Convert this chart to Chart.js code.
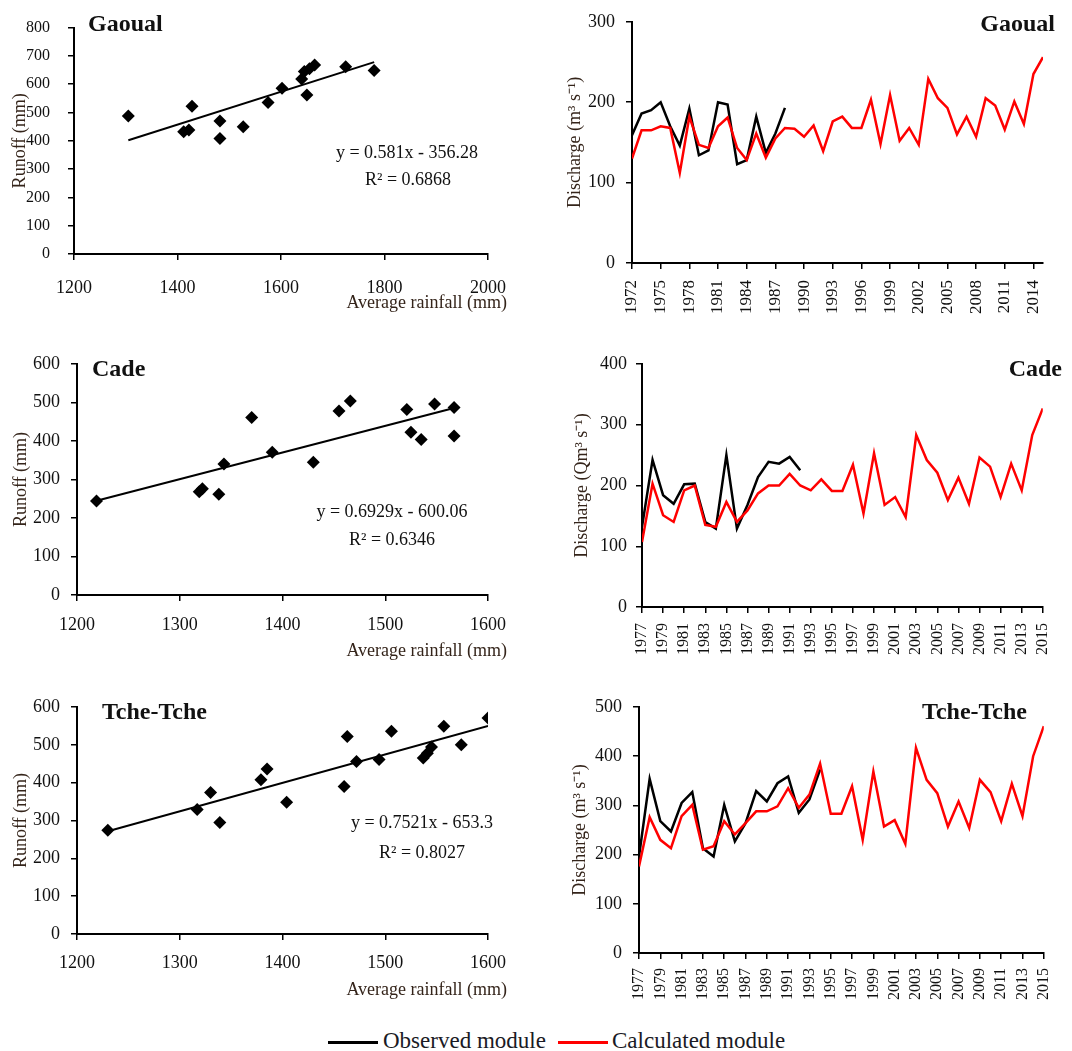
<!DOCTYPE html>
<html>
<head>
<meta charset="utf-8">
<script src="https://cdn.jsdelivr.net/npm/chart.js@4.4.1/dist/chart.umd.min.js"></script>
<style>
  body { margin: 0; background: #fff; width: 1072px; height: 1051px; position: relative; overflow: hidden; font-family: "Liberation Serif", "Times New Roman", serif; }
  .panel { position: absolute; }
  .key-line { position: absolute; height: 3px; }
  .key-text { position: absolute; font-size: 23px; line-height: 1; color: #1a1a24; white-space: nowrap; }
</style>
</head>
<body>
<div class="panel" style="left:0;top:0;width:530px;height:318px"><canvas id="gaoualRunoff"></canvas></div>
<div class="panel" style="left:540px;top:0;width:532px;height:325px"><canvas id="gaoualFlow"></canvas></div>
<div class="panel" style="left:0;top:330px;width:530px;height:336px"><canvas id="cadeRunoff"></canvas></div>
<div class="panel" style="left:540px;top:330px;width:532px;height:330px"><canvas id="cadeFlow"></canvas></div>
<div class="panel" style="left:0;top:670px;width:530px;height:335px"><canvas id="tcheRunoff"></canvas></div>
<div class="panel" style="left:540px;top:670px;width:532px;height:345px"><canvas id="tcheFlow"></canvas></div>

<div class="key-line" style="left:328px;top:1041px;width:50px;background:#000"></div>
<div class="key-text" style="left:383px;top:1029px">Observed module</div>
<div class="key-line" style="left:558px;top:1041px;width:50px;background:#ff0000"></div>
<div class="key-text" style="left:612px;top:1029px">Calculated module</div>

<script>
const serif = '"Liberation Serif", "Times New Roman", serif';
const ink = '#111';
const titleInk = '#34241a';

// Gaoual: mean annual rainfall vs runoff (mm)
const gaoualRain = [1305, 1412, 1422, 1428, 1482, 1482, 1527, 1575, 1602, 1640, 1645, 1650, 1655, 1665, 1725, 1780];
const gaoualRunoff = [488, 432, 438, 522, 470, 408, 450, 535, 586, 618, 645, 562, 655, 668, 662, 648];

// Cade
const cadeRain = [1219, 1319, 1322, 1338, 1343, 1370, 1390, 1430, 1455, 1466, 1521, 1525, 1535, 1548, 1567, 1567];
const cadeRunoff = [244, 268, 276, 262, 340, 461, 371, 345, 478, 504, 482, 423, 404, 496, 487, 413];

// Tche-Tche
const tcheRain = [1230, 1317, 1330, 1339, 1379, 1385, 1404, 1460, 1463, 1472, 1494, 1506, 1537, 1541, 1545, 1557, 1574, 1600];
const tcheRunoff = [274, 329, 374, 295, 408, 436, 348, 390, 522, 456, 461, 536, 465, 478, 494, 549, 500, 571];

// discharge series (m3/s)
const gaoualYears = [1972, 1973, 1974, 1975, 1976, 1977, 1978, 1979, 1980, 1981, 1982, 1983, 1984, 1985, 1986,
  1987, 1988, 1989, 1990, 1991, 1992, 1993, 1994, 1995, 1996, 1997, 1998, 1999, 2000, 2001, 2002, 2003, 2004,
  2005, 2006, 2007, 2008, 2009, 2010, 2011, 2012, 2013, 2014, 2015];
const gaoualTicks = [1972, 1975, 1978, 1981, 1984, 1987, 1990, 1993, 1996, 1999, 2002, 2005, 2008, 2011, 2014];
const gaoualCalc = [130, 165, 165, 170, 168, 112, 182, 147, 143, 170, 181, 143, 128, 161, 131, 155, 168, 167,
  157, 171, 139, 176, 182, 168, 168, 203, 148, 209, 152, 168, 147, 229, 205, 193, 160, 182, 157, 205, 196, 166,
  201, 173, 235, 256];
const gaoualObs = [159, 186, 190, 200, 170, 146, 192, 134, 140, 200, 197, 123, 128, 182, 137, 161, 193];

const laterYears = [1977, 1978, 1979, 1980, 1981, 1982, 1983, 1984, 1985, 1986, 1987, 1988, 1989, 1990, 1991,
  1992, 1993, 1994, 1995, 1996, 1997, 1998, 1999, 2000, 2001, 2002, 2003, 2004, 2005, 2006, 2007, 2008, 2009,
  2010, 2011, 2012, 2013, 2014, 2015];
const laterTicks = [1977, 1979, 1981, 1983, 1985, 1987, 1989, 1991, 1993, 1995, 1997, 1999, 2001, 2003, 2005,
  2007, 2009, 2011, 2013, 2015];

const cadeCalc = [107, 203, 151, 140, 192, 200, 135, 132, 173, 140, 159, 187, 200, 200, 219, 200, 192, 210,
  191, 191, 234, 154, 253, 168, 181, 148, 283, 242, 221, 176, 213, 170, 246, 231, 181, 236, 192, 283, 327];
const cadeObs = [132, 242, 184, 170, 202, 203, 140, 129, 250, 129, 168, 214, 239, 236, 247, 225];

const tcheCalc = [176, 276, 230, 213, 278, 301, 210, 217, 268, 241, 264, 288, 288, 298, 335, 295, 322, 385,
  283, 283, 339, 230, 369, 257, 270, 222, 417, 352, 325, 257, 308, 254, 352, 327, 268, 344, 278, 400, 461];
const tcheObs = [196, 354, 268, 247, 305, 327, 213, 196, 301, 227, 264, 329, 308, 345, 359, 285, 312, 373];

// free text (station names, regression equations, x titles) in canvas pixels
function textLayer(items) {
  return {
    id: 'textLayer',
    afterDraw(chart) {
      const ctx = chart.ctx;
      ctx.save();
      items.forEach(t => {
        ctx.font = (t.bold ? 'bold ' : '') + (t.size || 18) + 'px ' + serif;
        ctx.fillStyle = t.color || ink;
        ctx.textAlign = t.align || 'left';
        ctx.textBaseline = 'middle';
        ctx.fillText(t.text, t.x, t.y);
      });
      ctx.restore();
    }
  };
}

function axisLines() {
  return {
    grid: { drawOnChartArea: false, color: '#000', lineWidth: 1.5, tickLength: 6 },
    border: { color: '#000', width: 2 }
  };
}

function runoffChart(id, rain, runoff, fit, lay) {
  const lo = Math.min(...rain), hi = Math.max(...rain);
  const line = x => fit.slope * x + fit.intercept;
  new Chart(document.getElementById(id), {
    type: 'scatter',
    data: {
      datasets: [{
        data: rain.map((r, i) => ({ x: r, y: runoff[i] })),
        pointStyle: 'rectRot',
        pointRadius: 6.5,
        backgroundColor: '#000',
        borderColor: '#000',
        borderWidth: 0,
        order: 0
      }, {
        type: 'line',
        data: [{ x: lo, y: line(lo) }, { x: hi, y: line(hi) }],
        borderColor: '#000',
        borderWidth: 2,
        pointRadius: 0,
        order: 1
      }]
    },
    options: {
      responsive: true,
      maintainAspectRatio: false,
      animation: false,
      layout: { padding: { top: lay.padTop, right: lay.padRight, left: 0, bottom: 0 } },
      plugins: { legend: { display: false }, tooltip: { enabled: false } },
      scales: {
        x: {
          type: 'linear', min: 1200, max: lay.xMax,
          ...axisLines(),
          afterFit: s => { s.height = lay.xHeight; },
          ticks: { stepSize: lay.xStep, padding: lay.xTickPad, color: ink, font: { family: serif, size: 18 }, callback: v => String(v) }
        },
        y: {
          min: 0, max: lay.yMax,
          ...axisLines(),
          afterFit: s => { s.width = lay.yWidth; },
          ticks: { stepSize: 100, padding: lay.yTickPad, color: ink, font: { family: serif, size: lay.yTickSize } },
          title: { display: true, text: 'Runoff (mm)', color: titleInk, font: { family: serif, size: 18 }, padding: { top: lay.yTitlePad, bottom: 0 } }
        }
      }
    },
    plugins: [textLayer(lay.texts)]
  });
}

function dischargeChart(id, years, ticks, calc, obs, lay) {
  new Chart(document.getElementById(id), {
    type: 'line',
    data: {
      datasets: [{
        label: 'Calculated module',
        data: calc.map((v, i) => ({ x: years[i], y: v })),
        borderColor: '#ff0000',
        borderWidth: 2.5,
        pointRadius: 0,
        order: 0
      }, {
        label: 'Observed module',
        data: obs.map((v, i) => ({ x: years[i], y: v })),
        borderColor: '#000',
        borderWidth: 2.5,
        pointRadius: 0,
        order: 1
      }]
    },
    options: {
      responsive: true,
      maintainAspectRatio: false,
      animation: false,
      layout: { padding: { top: lay.padTop, right: lay.padRight, left: 0, bottom: 0 } },
      plugins: { legend: { display: false }, tooltip: { enabled: false } },
      scales: {
        x: {
          type: 'linear', min: years[0], max: years[years.length - 1],
          ...axisLines(),
          afterBuildTicks: s => { s.ticks = ticks.map(v => ({ value: v })); },
          afterFit: s => { s.height = lay.xHeight; },
          ticks: { autoSkip: false, minRotation: 90, maxRotation: 90, padding: lay.xTickPad, color: ink, font: { family: serif, size: lay.xTickSize }, callback: v => String(v) }
        },
        y: {
          min: 0, max: lay.yMax,
          ...axisLines(),
          afterFit: s => { s.width = lay.yWidth; },
          ticks: { stepSize: 100, padding: lay.yTickPad, color: ink, font: { family: serif, size: 18 } },
          title: { display: true, text: lay.yTitle, color: titleInk, font: { family: serif, size: 18 }, padding: { top: lay.yTitlePad, bottom: 0 } }
        }
      }
    },
    plugins: [textLayer(lay.texts)]
  });
}

runoffChart('gaoualRunoff', gaoualRain, gaoualRunoff, { slope: 0.581, intercept: -356.28 }, {
  padTop: 19, padRight: 42, xHeight: 64, yWidth: 74, xMax: 2000, xStep: 200, yMax: 800,
  xTickPad: 17, yTickPad: 18, yTickSize: 16, yTitlePad: 9,
  texts: [
    { text: 'Gaoual', x: 88, y: 25, bold: true, size: 24 },
    { text: 'y = 0.581x - 356.28', x: 407, y: 153, align: 'center' },
    { text: 'R\u00B2 = 0.6868', x: 408, y: 180, align: 'center' },
    { text: 'Average rainfall (mm)', x: 507, y: 303, align: 'right', color: titleInk }
  ]
});

runoffChart('cadeRunoff', cadeRain, cadeRunoff, { slope: 0.6929, intercept: -600.06 }, {
  padTop: 34, padRight: 42, xHeight: 71, yWidth: 77, xMax: 1600, xStep: 100, yMax: 600,
  xTickPad: 13, yTickPad: 11, yTickSize: 18, yTitlePad: 10,
  texts: [
    { text: 'Cade', x: 92, y: 40, bold: true, size: 24 },
    { text: 'y = 0.6929x - 600.06', x: 392, y: 182, align: 'center' },
    { text: 'R\u00B2 = 0.6346', x: 392, y: 210, align: 'center' },
    { text: 'Average rainfall (mm)', x: 507, y: 321, align: 'right', color: titleInk }
  ]
});

runoffChart('tcheRunoff', tcheRain, tcheRunoff, { slope: 0.7521, intercept: -653.3 }, {
  padTop: 37, padRight: 42, xHeight: 71, yWidth: 77, xMax: 1600, xStep: 100, yMax: 600,
  xTickPad: 12, yTickPad: 11, yTickSize: 18, yTitlePad: 10,
  texts: [
    { text: 'Tche-Tche', x: 102, y: 43, bold: true, size: 24 },
    { text: 'y = 0.7521x - 653.3', x: 422, y: 153, align: 'center' },
    { text: 'R\u00B2 = 0.8027', x: 422, y: 183, align: 'center' },
    { text: 'Average rainfall (mm)', x: 507, y: 320, align: 'right', color: titleInk }
  ]
});

dischargeChart('gaoualFlow', gaoualYears, gaoualTicks, gaoualCalc, gaoualObs, {
  padTop: 19, padRight: 29, xHeight: 62, yWidth: 92, yMax: 300,
  xTickPad: 11, xTickSize: 17, yTickPad: 11, yTitlePad: 24,
  yTitle: 'Discharge (m\u00B3 s\u207B\u00B9)',
  texts: [{ text: 'Gaoual', x: 515, y: 25, align: 'right', bold: true, size: 24 }]
});

dischargeChart('cadeFlow', laterYears, laterTicks, cadeCalc, cadeObs, {
  padTop: 34, padRight: 21, xHeight: 53, yWidth: 102, yMax: 400,
  xTickPad: 10, xTickSize: 16, yTickPad: 9, yTitlePad: 31,
  yTitle: 'Discharge (Qm\u00B3 s\u207B\u00B9)',
  texts: [{ text: 'Cade', x: 522, y: 40, align: 'right', bold: true, size: 24 }]
});

dischargeChart('tcheFlow', laterYears, laterTicks, tcheCalc, tcheObs, {
  padTop: 37, padRight: 20, xHeight: 62, yWidth: 99, yMax: 500,
  xTickPad: 9, xTickSize: 16, yTickPad: 11, yTitlePad: 29,
  yTitle: 'Discharge (m\u00B3 s\u207B\u00B9)',
  texts: [{ text: 'Tche-Tche', x: 487, y: 43, align: 'right', bold: true, size: 24 }]
});
</script>
</body>
</html>
